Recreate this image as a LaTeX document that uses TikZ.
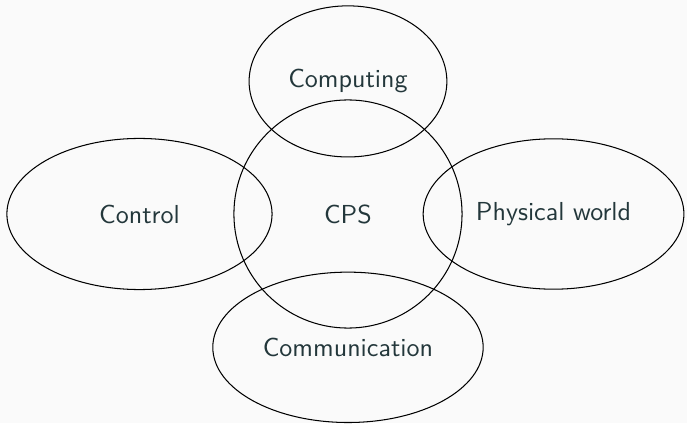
\documentclass[tikz,border=0pt]{standalone}
\usepackage{xcolor}
\usepackage{tikz}
\usetikzlibrary{shapes.geometric}
\usetikzlibrary{positioning}
\definecolor{pagebg}{HTML}{FAFAFA}
\definecolor{darkteal}{HTML}{23373B}

\begin{document}
\begin{tikzpicture}[node distance=1.8cm,
	area node/.style={ellipse, draw=black, thin, inner sep=0pt, text=darkteal, font=\sffamily},
	core node/.style={circle, draw=black, thin, inner sep=0pt, minimum size=3.08cm, text=darkteal, font=\sffamily}]
			% Background and margins
			\fill[pagebg] (-4.698,-2.822) rectangle (4.577,2.889);
			\useasboundingbox (-4.698,-2.822) rectangle (4.577,2.889);
			
			% Nodes
			\node[core node] (cps) at (0,0) {CPS};
			\node[area node, minimum width=2.67cm, minimum height=2.04cm] (comp) [above of=cps, yshift=-0.01cm] {Computing};
			\node[area node, minimum width=3.58cm, minimum height=2.04cm] (ctrl) [left of=cps, xshift=-1.015cm] {Control};
			\node[area node, minimum width=3.52cm, minimum height=2.03cm] (phys) [right of=cps, xshift=0.975cm] {Physical world};
			\node[area node, minimum width=3.65cm, minimum height=2.03cm] (comm) [below of=cps, yshift=0.0cm] {Communication};
			
\end{tikzpicture}
\end{document}
